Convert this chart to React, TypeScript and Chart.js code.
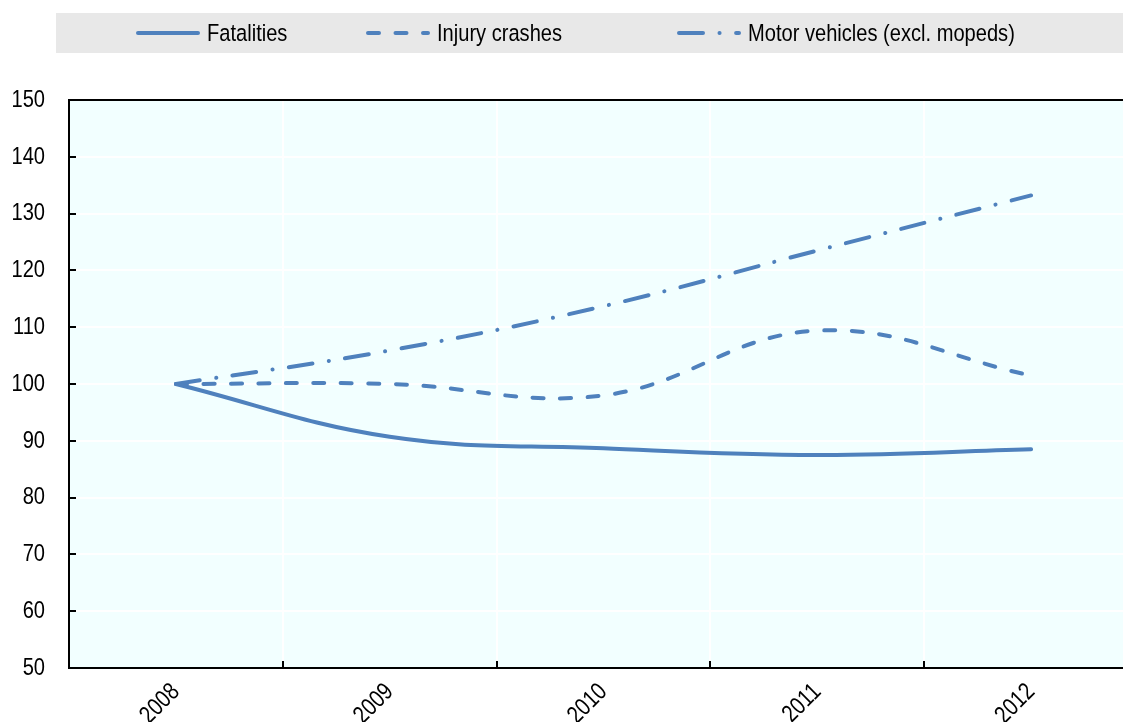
import React, { useEffect, useRef } from 'react';
import { Chart, registerables } from 'chart.js';

Chart.register(...registerables);

// ---- data ----
const years = ['2008', '2009', '2010', '2011', '2012'];
const fatalities = [100, 90.7, 88.7, 87.5, 88.5];
const injuryCrashes = [100, 100.0, 98.0, 109.4, 101.5];
const motorVehicles = [100, 105.9, 113.7, 123.5, 133.2];
const seriesNames = ['Fatalities', 'Injury crashes', 'Motor vehicles (excl. mopeds)'];
const yMin = 50;
const yMax = 150;
const yStep = 10;

const BLUE = '#4f81bd';
const FONT = "'Liberation Sans', Arial, sans-serif";
const FONT_SIZE = 24.5;
const NARROW = 0.82;
const DASH_INJ = [11, 16.5];
const DASH_MOT = [24, 16.5, 0.1, 16.5];
const LEGEND_X = [136, 366, 677];

function narrowText(ctx: CanvasRenderingContext2D, text: string, x: number, y: number, rot: number, align: CanvasTextAlign) {
  ctx.save();
  ctx.translate(x, y);
  if (rot) ctx.rotate(rot);
  ctx.scale(NARROW, 1);
  ctx.textAlign = align;
  ctx.textBaseline = 'middle';
  ctx.fillText(text, 0, 0);
  ctx.restore();
}

const decorPlugin = {
  id: 'decor',
  beforeDraw(chart: any) {
    const { ctx, chartArea } = chart;
    ctx.save();
    // plot background
    ctx.fillStyle = '#f2ffff';
    ctx.fillRect(chartArea.left, chartArea.top, chartArea.right - chartArea.left, chartArea.bottom - chartArea.top);
    // legend band
    ctx.fillStyle = '#e8e8e8';
    ctx.fillRect(56, 13, chart.width - 56, 40);
    const ds = chart.data.datasets;
    ctx.font = `${FONT_SIZE}px ${FONT}`;
    ds.forEach((d: any, i: number) => {
      const x0 = LEGEND_X[i];
      const y = 33;
      ctx.strokeStyle = d.borderColor;
      ctx.lineWidth = d.borderWidth;
      ctx.lineCap = d.borderCapStyle || 'butt';
      ctx.setLineDash(d.borderDash || []);
      ctx.beginPath();
      ctx.moveTo(x0 + 2, y);
      ctx.lineTo(x0 + 62, y);
      ctx.stroke();
      ctx.setLineDash([]);
      ctx.fillStyle = '#000';
      narrowText(ctx, d.label, x0 + 71, y + 1, 0, 'left');
    });
    ctx.restore();
  },
  afterDraw(chart: any) {
    const { ctx, chartArea } = chart;
    ctx.save();
    // top border
    ctx.strokeStyle = '#000';
    ctx.lineWidth = 2;
    ctx.beginPath();
    ctx.moveTo(chartArea.left - 1, chartArea.top);
    ctx.lineTo(chartArea.right, chartArea.top);
    ctx.stroke();
    // tick labels
    ctx.fillStyle = '#000';
    ctx.font = `${FONT_SIZE}px ${FONT}`;
    const ys = chart.scales.y;
    ys.ticks.forEach((t: any) => {
      narrowText(ctx, String(t.value), 45, ys.getPixelForValue(t.value), 0, 'right');
    });
    const xs = chart.scales.x;
    const labels = chart.data.labels as string[];
    labels.forEach((lab: string, i: number) => {
      narrowText(ctx, lab, xs.getPixelForValue(i), chartArea.bottom + 20, -Math.PI / 4, 'right');
    });
    ctx.restore();
  },
};

export default function App() {
  const ref = useRef<HTMLCanvasElement | null>(null);

  useEffect(() => {
    if (!ref.current) return;
    const common = {
      borderColor: BLUE,
      borderWidth: 4,
      borderCapStyle: 'round',
      pointRadius: 0,
      tension: 0.4,
      fill: false,
    };
    const chart = new Chart(ref.current, {
      type: 'line',
      data: {
        labels: years,
        datasets: [
          { ...common, label: seriesNames[0], data: fatalities, borderDash: [] },
          { ...common, label: seriesNames[1], data: injuryCrashes, borderDash: DASH_INJ },
          { ...common, label: seriesNames[2], data: motorVehicles, borderDash: DASH_MOT },
        ],
      },
      options: {
        animation: false,
        responsive: false,
        maintainAspectRatio: false,
        layout: { padding: { top: 100, right: 2, left: 0, bottom: 0 } },
        plugins: {
          legend: { display: false },
          tooltip: { enabled: false },
          title: { display: false },
        },
        scales: {
          x: {
            type: 'category',
            offset: true,
            grid: {
              offset: true,
              color: '#ffffff',
              lineWidth: 2,
              tickColor: '#000',
              tickWidth: 2,
              tickLength: -7,
              drawTicks: true,
            },
            border: { display: true, color: '#000', width: 2 },
            ticks: { display: false, autoSkip: false },
            afterFit: (scale: any) => {
              scale.height = 54;
            },
          },
          y: {
            min: yMin,
            max: yMax,
            grid: {
              color: '#ffffff',
              lineWidth: 2,
              tickColor: '#000',
              tickWidth: 2,
              tickLength: -7,
              drawTicks: true,
            },
            border: { display: true, color: '#000', width: 2 },
            ticks: { display: false, stepSize: yStep },
            afterFit: (scale: any) => {
              scale.width = 69;
            },
          },
        },
      },
      plugins: [decorPlugin],
    } as any);
    return () => chart.destroy();
  }, []);

  return (
    <div
      style={{
        position: 'fixed',
        left: 0,
        top: 0,
        width: 1123,
        height: 722,
        overflow: 'hidden',
        background: '#fff',
      }}
    >
      <canvas ref={ref} width={1140} height={722} style={{ display: 'block', width: 1140, height: 722 }} />
    </div>
  );
}
